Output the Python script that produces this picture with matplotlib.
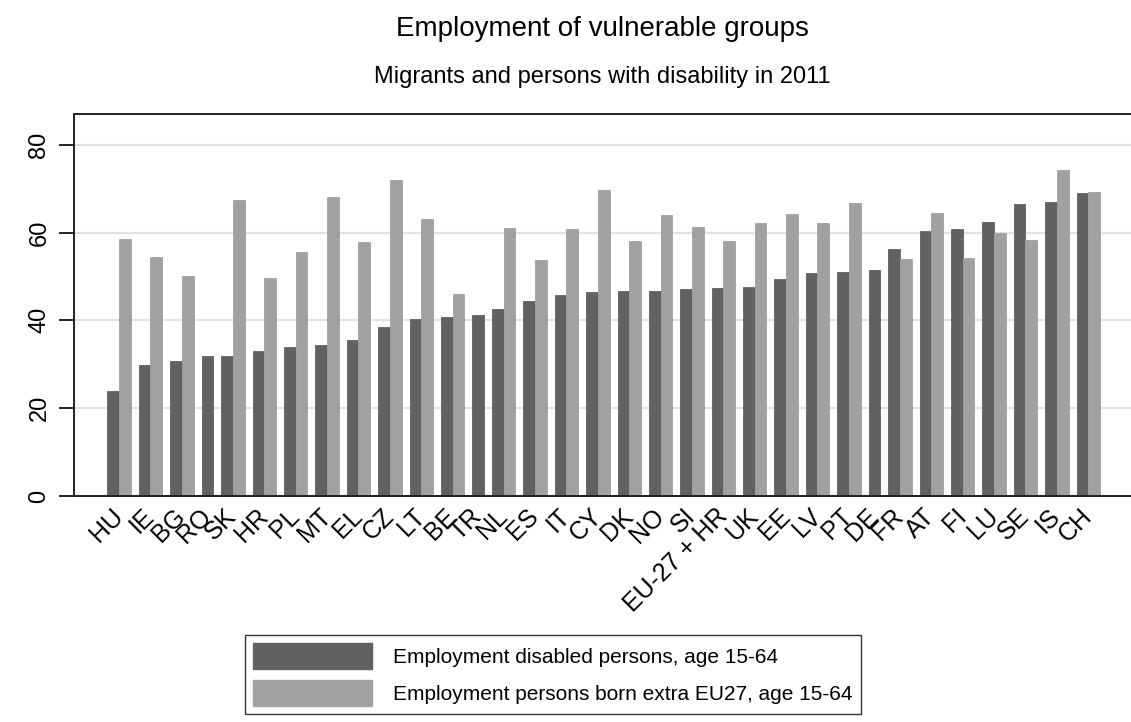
import numpy as np
import matplotlib
matplotlib.use("Agg")
import matplotlib.pyplot as plt
from matplotlib.patches import Patch

plt.rcParams['font.family'] = ['Liberation Sans', 'DejaVu Sans']

# --- Data ---
countries = ["HU", "IE", "BG", "RO", "SK", "HR", "PL", "MT", "EL", "CZ", "LT",
             "BE", "TR", "NL", "ES", "IT", "CY", "DK", "NO", "SI", "EU-27 + HR",
             "UK", "EE", "LV", "PT", "DE", "FR", "AT", "FI", "LU", "SE", "IS", "CH"]
disabled = [23.8, 29.9, 30.8, 31.9, 31.9, 33.1, 33.9, 34.4, 35.6, 38.6, 40.4,
            40.7, 41.2, 42.7, 44.3, 45.7, 46.4, 46.7, 46.8, 47.1, 47.4,
            47.7, 49.5, 50.9, 51.0, 51.5, 56.2, 60.3, 60.8, 62.5, 66.4, 67.0, 68.9]
migrants = [58.5, 54.4, 50.0, np.nan, 67.5, 49.7, 55.5, 68.1, 57.8, 71.9, 63.0,
            45.9, np.nan, 61.1, 53.8, 60.8, 69.8, 58.0, 63.9, 61.3, 58.0,
            62.1, 64.2, 62.1, 66.8, np.nan, 54.0, 64.5, 54.1, 60.0, 58.2, 74.3, 69.3]

label_disabled = "Employment disabled persons, age 15-64"
label_migrants = "Employment persons born extra EU27, age 15-64"

dark = "#616161"
light = "#a1a1a1"

# --- Figure ---
W, H = 1131, 722
fig = plt.figure(figsize=(W / 100, H / 100), dpi=100)
ax_left = 74 / W
ax = fig.add_axes([ax_left, 1 - 496 / H, 1 - ax_left, (496 - 114) / H])

# bars: groups with a missing value are narrower (like Stata)
bw = 1.0
gap = 0.686
cursor = 0.0
centers = []
for d, m in zip(disabled, migrants):
    start = cursor
    n = 0
    for val, col in ((d, dark), (m, light)):
        if not np.isnan(val):
            ax.bar(cursor, val, width=bw, align='edge', color=col,
                   edgecolor=col, linewidth=0.6, zorder=2)
            cursor += bw
            n += 1
    centers.append(start + n * bw / 2)
    cursor += gap
end = cursor - gap

ax.set_xlim(-2.86, end + 2.66)
ax.set_ylim(0, 87)

ax.set_xticks(centers)
ax.set_xticklabels(countries, rotation=45, ha='right', va='center',
                   rotation_mode='anchor', fontsize=18)
ax.tick_params(axis='x', length=0, pad=12)

ax.set_yticks([0, 20, 40, 60, 80])
ax.set_yticklabels(["0", "20", "40", "60", "80"], rotation=90, va='center',
                   fontsize=17)
ax.tick_params(axis='y', length=11, width=1.2, direction='out', pad=6)

ax.yaxis.grid(True, color="#e2e2e2", linewidth=1.6, zorder=0)
ax.set_axisbelow(True)

for s in ('left', 'bottom', 'top'):
    ax.spines[s].set_color("#222222")
    ax.spines[s].set_linewidth(1.4)
ax.spines['right'].set_visible(False)

# titles centred over the plot region
cx = ax_left + (1 - ax_left) / 2
fig.text(cx, 1 - 29 / H, "Employment of vulnerable groups",
         ha='center', va='center', fontsize=20)
fig.text(cx, 1 - 77 / H, "Migrants and persons with disability in 2011",
         ha='center', va='center', fontsize=17)

handles = [Patch(facecolor=dark, edgecolor=dark),
           Patch(facecolor=light, edgecolor=light)]
leg = fig.legend(handles, [label_disabled, label_migrants],
                 loc='upper center', bbox_to_anchor=(553 / W, 1 - 635 / H),
                 fontsize=15, frameon=True, fancybox=False,
                 handlelength=5.7, handleheight=1.5, handletextpad=1.0,
                 borderpad=0.4, labelspacing=0.55, borderaxespad=0)
leg.get_frame().set_edgecolor("black")
leg.get_frame().set_linewidth(1.0)

fig.savefig("out.png", dpi=100)
